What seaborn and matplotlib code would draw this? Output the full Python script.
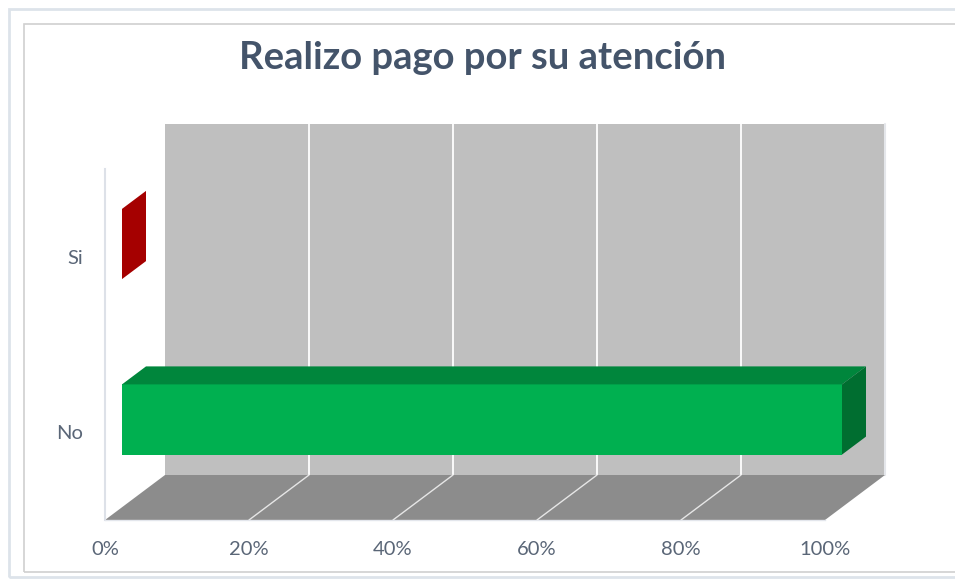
import matplotlib
matplotlib.use("Agg")
import matplotlib.pyplot as plt
import seaborn as sns
from matplotlib.patches import Polygon, Rectangle

# data
categories = ["Si", "No"]
values = [0, 100]
x_ticks = [0, 20, 40, 60, 80, 100]
x_tick_labels = ["0%", "20%", "40%", "60%", "80%", "100%"]
title = "Realizo pago por su atención"

front_colors = ["#c00000", "#00b050"]
top_colors = ["#b00000", "#00863c"]
side_colors = ["#a50000", "#006e30"]

sns.set_theme(style="white")
plt.rcParams["font.family"] = ["Lato", "DejaVu Sans"]

W, H = 955, 581
fig = plt.figure(figsize=(W / 100, H / 100), dpi=100)
# front plane of the 3d box, in pixels
left, right, top, bottom = 105, 825, 169, 520
ax = fig.add_axes([left / W, 1 - bottom / H, (right - left) / W, (bottom - top) / H])

sns.barplot(x=values, y=categories, hue=categories, palette=front_colors,
            orient="h", width=0.4, legend=False, ax=ax, saturation=1)
ax.set_xlim(0, 100)
ax.set_ylim(1.5, -0.5)

# pixel -> data conversion for the fake depth
px_x = 100 / (right - left)
px_y = 2 / (bottom - top)
DEPTH = 60          # full depth in pixels (horizontal)
SLOPE = 0.75        # vertical / horizontal
bar_front, bar_back = 17, 41


def shift(x, y, d):
    return (x + d * px_x, y - d * SLOPE * px_y)


# back wall
x0, x1 = ax.get_xlim()
y_top, y_bot = -0.5, 1.5
wall = [shift(x0, y_bot, DEPTH), shift(x1, y_bot, DEPTH),
        shift(x1, y_top, DEPTH), shift(x0, y_top, DEPTH)]
ax.add_patch(Polygon(wall, closed=True, fc="#bfbfbf", ec="none", zorder=0, clip_on=False))
for t in x_ticks[1:-1]:
    a, b = shift(t, y_bot, DEPTH), shift(t, y_top, DEPTH)
    ax.plot([a[0], b[0]], [a[1], b[1]], color="white", lw=1.3, zorder=0.5, clip_on=False)
a, b = shift(x1, y_bot, DEPTH), shift(x1, y_top, DEPTH)
ax.plot([a[0], b[0]], [a[1], b[1]], color="#e4e6ea", lw=1.5, zorder=0.5, clip_on=False)

# floor
floor = [shift(x0, y_bot, 0), shift(x1, y_bot, 0),
         shift(x1, y_bot, DEPTH), shift(x0, y_bot, DEPTH)]
ax.add_patch(Polygon(floor, closed=True, fc="#8c8c8c", ec="none", zorder=1, clip_on=False))
for t in x_ticks[1:-1]:
    a, b = shift(t, y_bot, 0), shift(t, y_bot, DEPTH)
    ax.plot([a[0], b[0]], [a[1], b[1]], color="#e6e6e6", lw=1.0, zorder=1.5, clip_on=False)

# bars: move seaborn fronts back, add top and side faces
for i, p in enumerate(ax.patches[:len(values)]):
    bx, by, bw, bh = p.get_x(), p.get_y(), p.get_width(), p.get_height()
    fx, fy = shift(bx, by, bar_front)
    p.set_xy((fx, fy))
    p.set_zorder(3)
    p.set_edgecolor("none")
    p.set_clip_on(False)
    xe = fx + bw
    yt, yb = fy, fy + bh
    d = bar_back - bar_front
    top_face = [(fx, yt), (xe, yt), shift(xe, yt, d), shift(fx, yt, d)]
    side_face = [(xe, yt), (xe, yb), shift(xe, yb, d), shift(xe, yt, d)]
    if bw > 0:
        ax.add_patch(Polygon(top_face, closed=True, fc=top_colors[i], ec="none",
                             zorder=3, clip_on=False))
    ax.add_patch(Polygon(side_face, closed=True, fc=side_colors[i], ec="none",
                         zorder=3, clip_on=False))

# axes styling
for s in ["top", "right"]:
    ax.spines[s].set_visible(False)
ax.spines["left"].set_color("#dde1e8")
ax.spines["left"].set_linewidth(1.5)
ax.spines["bottom"].set_color("#e3e6ec")
ax.spines["bottom"].set_linewidth(1.0)
ax.set_facecolor("none")
ax.set_xticks(x_ticks)
ax.set_xticklabels(x_tick_labels)
ax.set_xlabel("")
ax.set_ylabel("")
ax.tick_params(axis="x", length=0, pad=15, labelsize=14.5, labelcolor="#5a6677")
ax.tick_params(axis="y", length=0, pad=16, labelsize=14.5, labelcolor="#5a6677")

fig.text(482 / W, 1 - 58 / H, title, ha="center", va="center",
         fontsize=27.5, fontweight="bold", color="#44546a")

# chart frame
fig.add_artist(Rectangle((9 / W, 1 - 577 / H), (W + 10) / W, 568 / H,
                         transform=fig.transFigure, fill=False, ec="#dde3ea", lw=2))
fig.add_artist(Rectangle((24 / W, 1 - 572 / H), (W + 10) / W, 548 / H,
                         transform=fig.transFigure, fill=False, ec="#d0d0d0", lw=1.2))

fig.savefig("out.png", dpi=100)
